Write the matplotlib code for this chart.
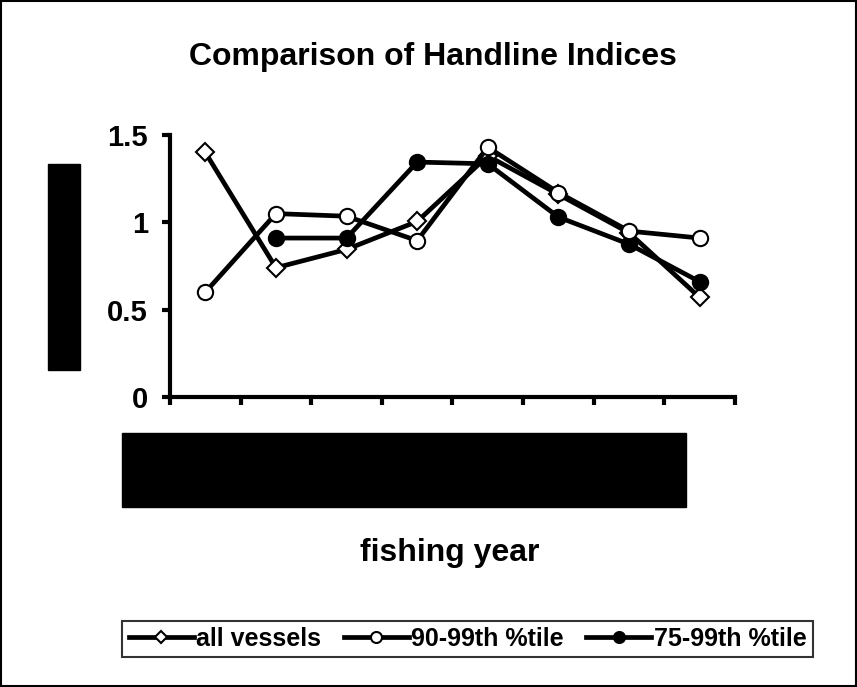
import matplotlib
matplotlib.use("Agg")
import matplotlib.pyplot as plt
import numpy as np
from matplotlib.patches import Rectangle

plt.rcParams["font.family"] = ["Liberation Sans", "DejaVu Sans"]
plt.rcParams["font.weight"] = "bold"

# eight fishing years (labels are blacked out in the original)
n_years = 8
all_vessels = [1.40, 0.74, 0.845, 1.005, 1.38, 1.16, 0.94, 0.57]
pct_90_99 = [0.60, 1.05, 1.035, 0.895, 1.43, 1.17, 0.95, 0.91]
pct_75_99 = [np.nan, 0.91, 0.91, 1.345, 1.335, 1.03, 0.875, 0.66]
yticks = [0, 0.5, 1, 1.5]
ytick_labels = ["0", "0.5", "1", "1.5"]

W, H = 857, 687
fig = plt.figure(figsize=(W / 100, H / 100), dpi=100)
ax = fig.add_axes([170 / W, 1 - 397 / H, (735 - 170) / W, (397 - 135) / H])

xs = np.arange(n_years) + 0.5
lw = 3.4
ax.plot(xs, all_vessels, color="black", lw=lw, marker="D", ms=9,
        mfc="white", mec="black", mew=1.5, label="all vessels", zorder=3)
ax.plot(xs, pct_75_99, color="black", lw=lw, marker="o", ms=11,
        mfc="black", mec="black", mew=1.5, label="75-99th %tile", zorder=4)
ax.plot(xs, pct_90_99, color="black", lw=lw, marker="o", ms=11,
        mfc="white", mec="black", mew=1.5, label="90-99th %tile", zorder=5)

ax.set_xlim(0, n_years)
ax.set_ylim(0, 1.5)
ax.set_xticks(np.arange(n_years + 1))
ax.set_xticklabels([])
ax.set_yticks(yticks)
ax.set_yticklabels(ytick_labels, fontsize=21, fontweight="bold")
for side in ["top", "right"]:
    ax.spines[side].set_visible(False)
for side in ["left", "bottom"]:
    ax.spines[side].set_linewidth(3)
ax.tick_params(axis="both", direction="out", length=6, width=3, pad=8)
ax.tick_params(axis="y", pad=10)

# legend in plot order: all vessels, 90-99, 75-99
h, l = ax.get_legend_handles_labels()
order = [0, 2, 1]
leg = fig.legend([h[i] for i in order], [l[i] for i in order],
                 loc="center", bbox_to_anchor=(467.5 / W, 1 - 639 / H),
                 ncol=3, frameon=True, fancybox=False, markerscale=0.72,
                 handlelength=2.6, handletextpad=0.1, columnspacing=0.9,
                 borderpad=0.25, borderaxespad=0,
                 prop={"weight": "bold", "size": 18})
leg.get_frame().set_edgecolor("black")
leg.get_frame().set_linewidth(1.5)

fig.text(433 / W, 1 - 57 / H, "Comparison of Handline Indices",
         ha="center", va="center", fontsize=23, fontweight="bold")
fig.text(450 / W, 1 - 553 / H, "fishing year",
         ha="center", va="center", fontsize=23, fontweight="bold")

# redacted axis label and year labels
fig.patches.append(Rectangle((48 / W, 1 - 370 / H), 32 / W, 206 / H,
                             transform=fig.transFigure, color="black"))
fig.patches.append(Rectangle((122 / W, 1 - 507 / H), 564 / W, 74 / H,
                             transform=fig.transFigure, color="black"))
# outer frame
fig.patches.append(Rectangle((1 / W, 1 / H), (W - 2) / W, (H - 2) / H,
                             transform=fig.transFigure, fill=False,
                             edgecolor="black", lw=1.5))

fig.savefig("out.png", dpi=100)
